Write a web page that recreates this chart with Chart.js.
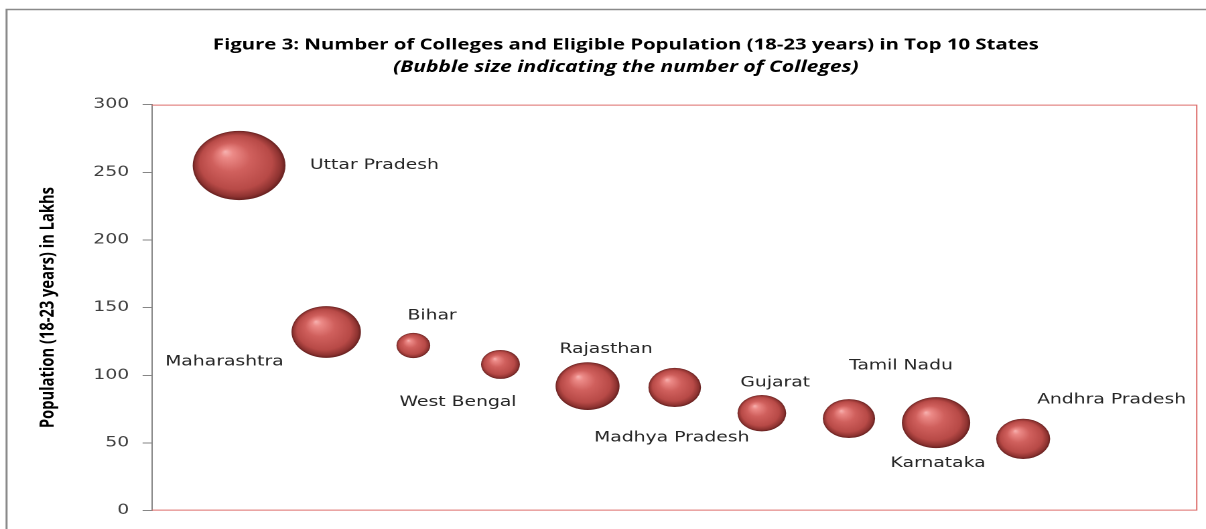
<!DOCTYPE html>
<html>
<head>
<meta charset="utf-8">
<script src="https://cdn.jsdelivr.net/npm/chart.js@4.4.1/dist/chart.umd.min.js"></script>
<style>
html, body { margin: 0; padding: 0; background: #ffffff; overflow: hidden; width: 1206px; height: 529px; }
#wrap { position: absolute; left: 0; top: 0; width: 934px; height: 529px; transform: scaleX(1.34); transform-origin: 0 0; }
</style>
</head>
<body>
<div id="wrap"><canvas id="c"></canvas></div>
<script>
// ---- data ----
const states = ['Uttar Pradesh', 'Maharashtra', 'Bihar', 'West Bengal', 'Rajasthan',
                'Madhya Pradesh', 'Gujarat', 'Tamil Nadu', 'Karnataka', 'Andhra Pradesh'];
const population = [255, 132, 122, 108, 92, 91, 72, 68, 65, 53];      // lakhs, 18-23 years
const colleges   = [4790, 2680, 635, 840, 2280, 1540, 1320, 1520, 2600, 1620]; // bubble size
const yTickValues = [0, 50, 100, 150, 200, 250, 300];
const titleText = 'Figure 3: Number of Colleges and Eligible Population (18-23 years) in Top 10 States';
const subtitleText = '(Bubble size indicating the number of Colleges)';
const yAxisTitle = 'Population (18-23 years) in Lakhs';

// ---- styling (label placement offsets, px) ----
const labelOffsets = [[101, 0], [-76, 30], [14, -29.5], [-31.7, 38], [13.8, -36.5],
                      [-2.2, 50.5], [10, -30.5], [38.8, -52.5], [1.5, 40.5], [66, -39]];

const bubbleData = states.map((s, i) => ({ x: i + 1, y: population[i], r: Math.sqrt(colleges[i]) / 2 }));

function sphereFill(c) {
  const chart = c.chart;
  if (!c.parsed || !chart.scales || !chart.scales.x || !chart.scales.y) return '#C0504D';
  const cx = chart.scales.x.getPixelForValue(c.parsed.x);
  const cy = chart.scales.y.getPixelForValue(c.parsed.y);
  const r = Math.sqrt(colleges[c.dataIndex]) / 2;
  if (!isFinite(cx) || !isFinite(cy) || !isFinite(r)) return '#C0504D';
  const g = chart.ctx.createRadialGradient(cx - 0.3 * r, cy - 0.4 * r, 0, cx, cy, r);
  g.addColorStop(0, '#F7B3B1');
  g.addColorStop(0.13, '#EC8A87');
  g.addColorStop(0.42, '#D0605D');
  g.addColorStop(0.78, '#B84A47');
  g.addColorStop(0.93, '#8E3331');
  g.addColorStop(1, '#65201F');
  return g;
}

const framePlugin = {
  id: 'frame',
  beforeDraw(chart) {
    const ctx = chart.ctx;
    ctx.save();
    ctx.fillStyle = '#ffffff';
    ctx.fillRect(0, 0, chart.width, chart.height);
    ctx.strokeStyle = '#8a8a8a';
    ctx.lineWidth = 1.5;
    ctx.beginPath();
    ctx.moveTo(4.9, chart.height + 5);
    ctx.lineTo(4.9, 9.5);
    ctx.lineTo(chart.width + 5, 9.5);
    ctx.stroke();
    ctx.restore();
  },
  beforeDatasetsDraw(chart) {
    const a = chart.chartArea, ctx = chart.ctx;
    ctx.save();
    ctx.strokeStyle = '#DE6E6C';
    ctx.lineWidth = 1;
    ctx.beginPath();
    ctx.moveTo(a.left, a.top + 0.5);
    ctx.lineTo(a.right - 0.5, a.top + 0.5);
    ctx.lineTo(a.right - 0.5, a.bottom - 0.5);
    ctx.lineTo(a.left, a.bottom - 0.5);
    ctx.stroke();
    ctx.restore();
  }
};

const labelPlugin = {
  id: 'bubbleLabels',
  afterDatasetsDraw(chart) {
    const meta = chart.getDatasetMeta(0);
    const ctx = chart.ctx;
    ctx.save();
    ctx.font = '14px "DejaVu Sans"';
    ctx.fillStyle = '#262626';
    ctx.textAlign = 'center';
    ctx.textBaseline = 'middle';
    meta.data.forEach((el, i) => {
      const o = labelOffsets[i];
      ctx.fillText(states[i], el.x + o[0], el.y + o[1]);
    });
    ctx.restore();
  }
};

new Chart(document.getElementById('c'), {
  type: 'bubble',
  data: {
    datasets: [{
      label: 'States',
      data: bubbleData,
      backgroundColor: sphereFill,
      borderWidth: 0,
      hoverBorderWidth: 0
    }]
  },
  options: {
    responsive: true,
    maintainAspectRatio: false,
    animation: false,
    devicePixelRatio: 2,
    events: [],
    layout: { autoPadding: false, padding: { left: 40.4, right: 40.4, top: 0, bottom: 13 } },
    plugins: {
      legend: { display: false },
      tooltip: { enabled: false },
      title: {
        display: true,
        text: titleText,
        color: '#000000',
        font: { family: '"Open Sans"', size: 15.2, weight: 'bold', lineHeight: 1.2 },
        padding: { top: 36, bottom: 4 }
      },
      subtitle: {
        display: true,
        text: subtitleText,
        color: '#000000',
        font: { family: '"Open Sans"', size: 15.7, weight: 'bold', style: 'italic', lineHeight: 1.2 },
        padding: { top: 0, bottom: 27.5 }
      }
    },
    scales: {
      x: { type: 'linear', display: false, min: 0, max: 12 },
      y: {
        type: 'linear',
        min: 0,
        max: 300,
        afterBuildTicks: (scale) => { scale.ticks = yTickValues.map(v => ({ value: v })); },
        afterFit: (scale) => { scale.width = 73; },
        ticks: {
          color: '#404040',
          padding: 10,
          font: { family: 'DejaVu Sans', size: 14 }
        },
        grid: { drawOnChartArea: false, drawTicks: true, tickLength: 7, color: '#868686' },
        border: { display: true, color: '#868686', width: 1 },
        title: {
          display: true,
          text: yAxisTitle,
          color: '#000000',
          font: { family: '"Open Sans"', size: 14.7, weight: 'bold', lineHeight: 1.2 },
          padding: { top: -13.5, bottom: 0 }
        }
      }
    }
  },
  plugins: [framePlugin, labelPlugin]
});
</script>
</body>
</html>
